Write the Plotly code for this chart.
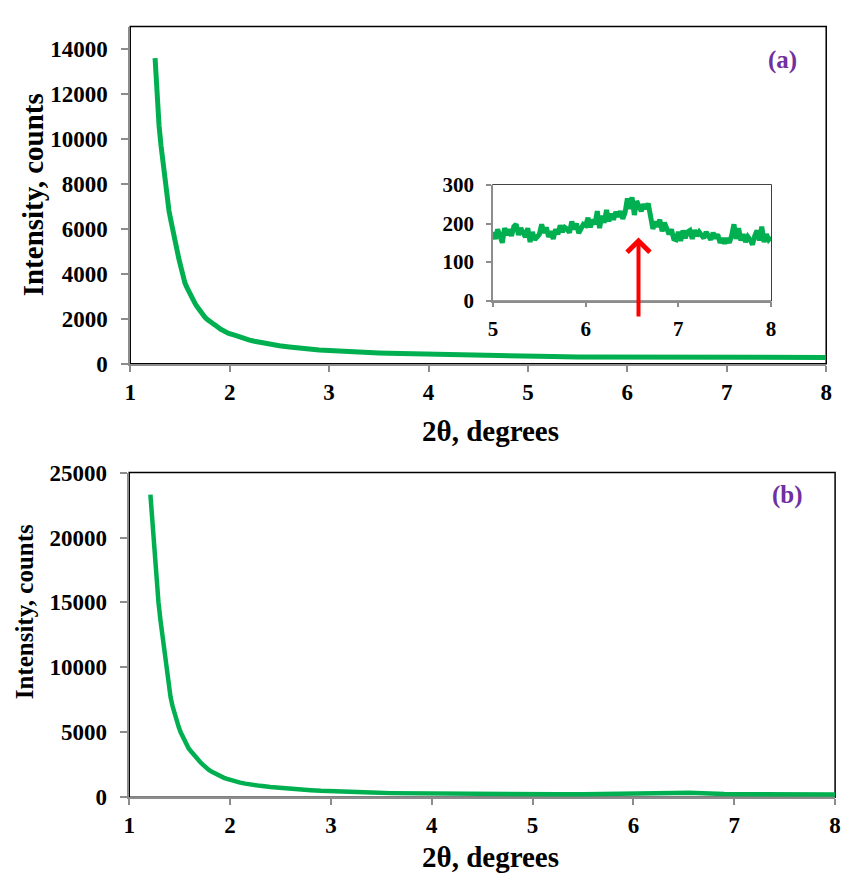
import plotly.graph_objects as go

# ---------------- data ----------------
# panel (a) main pattern
two_theta_a = [1.25, 1.27, 1.29, 1.31, 1.33, 1.35, 1.37, 1.39, 1.41, 1.43, 1.45, 1.47, 1.49, 1.51,
               1.53, 1.55, 1.57, 1.59, 1.61, 1.63, 1.65, 1.67, 1.69, 1.71, 1.73, 1.75, 1.77, 1.79,
               1.81, 1.83, 1.85, 1.87, 1.89, 1.91, 1.93, 1.95, 1.97, 1.99, 2.05, 2.10, 2.15, 2.20,
               2.25, 2.30, 2.35, 2.40, 2.45, 2.50, 2.60, 2.70, 2.80, 2.90, 3.00, 3.10, 3.20, 3.30,
               3.40, 3.50, 3.60, 3.70, 3.80, 3.90, 4.00, 4.20, 4.40, 4.60, 4.80, 5.00, 5.25, 5.50,
               5.75, 6.00, 6.25, 6.50, 6.75, 7.00, 7.25, 7.50, 7.75, 8.00]
counts_a = [13600, 11900, 10600, 9700, 8900, 8200, 7400, 6800, 6350, 5850, 5400, 4950, 4650, 4300,
            3900, 3600, 3400, 3200, 3080, 2900, 2700, 2560, 2420, 2330, 2200, 2080, 1990, 1900,
            1870, 1790, 1730, 1640, 1590, 1530, 1490, 1440, 1400, 1350, 1270, 1180, 1120, 1050,
            1000, 950, 915, 875, 835, 800, 750, 695, 650, 612, 590, 560, 540, 518,
            500, 482, 468, 456, 444, 432, 425, 400, 382, 365, 350, 335, 320, 306,
            300, 290, 285, 290, 280, 275, 270, 270, 265, 280]

# panel (a) inset, 5-8 degrees
two_theta_inset = [5.000, 5.025, 5.050, 5.075, 5.100, 5.125, 5.150, 5.175, 5.200, 5.225, 5.250, 5.275,
                   5.300, 5.325, 5.350, 5.375, 5.400, 5.425, 5.450, 5.475, 5.500, 5.525, 5.550, 5.575,
                   5.600, 5.625, 5.650, 5.675, 5.700, 5.725, 5.750, 5.775, 5.800, 5.825, 5.850, 5.875,
                   5.900, 5.925, 5.950, 5.975, 6.000, 6.025, 6.050, 6.075, 6.100, 6.125, 6.150, 6.175,
                   6.200, 6.225, 6.250, 6.275, 6.300, 6.325, 6.350, 6.375, 6.400, 6.425, 6.450, 6.475,
                   6.500, 6.525, 6.550, 6.575, 6.600, 6.625, 6.650, 6.675, 6.700, 6.725, 6.750, 6.775,
                   6.800, 6.825, 6.850, 6.875, 6.900, 6.925, 6.950, 6.975, 7.000, 7.025, 7.050, 7.075,
                   7.100, 7.125, 7.150, 7.175, 7.200, 7.225, 7.250, 7.275, 7.300, 7.325, 7.350, 7.375,
                   7.400, 7.425, 7.450, 7.475, 7.500, 7.525, 7.550, 7.575, 7.600, 7.625, 7.650, 7.675,
                   7.700, 7.725, 7.750, 7.775, 7.800, 7.825, 7.850, 7.875, 7.900, 7.925, 7.950, 7.975,
                   8.000]
counts_inset = [178, 160, 185, 165, 150, 188, 170, 185, 168, 192, 198, 170,
                188, 176, 165, 188, 152, 178, 158, 165, 172, 198, 176, 190,
                165, 180, 160, 185, 172, 195, 178, 190, 186, 176, 205, 185,
                200, 175, 188, 198, 195, 215, 190, 210, 198, 232, 188, 220,
                202, 235, 206, 225, 210, 230, 218, 232, 212, 228, 265, 238,
                268, 222, 258, 248, 232, 250, 238, 252, 218, 186, 205, 192,
                210, 180, 202, 186, 172, 185, 160, 158, 178, 155, 182, 162,
                178, 182, 160, 183, 168, 178, 168, 162, 178, 168, 158, 176,
                162, 172, 150, 162, 148, 162, 150, 168, 198, 160, 188, 156,
                172, 152, 166, 158, 145, 168, 182, 156, 192, 152, 172, 158,
                165]

# panel (b)
two_theta_b = [1.21, 1.23, 1.25, 1.27, 1.29, 1.31, 1.33, 1.35, 1.37, 1.39, 1.41, 1.43, 1.45, 1.47,
               1.49, 1.51, 1.53, 1.55, 1.57, 1.59, 1.61, 1.63, 1.65, 1.67, 1.69, 1.71, 1.73, 1.75,
               1.77, 1.79, 1.82, 1.85, 1.88, 1.91, 1.94, 1.97, 2.00, 2.05, 2.10, 2.15, 2.20, 2.30,
               2.40, 2.50, 2.60, 2.70, 2.80, 2.90, 3.00, 3.20, 3.40, 3.60, 3.80, 4.00, 4.25, 4.50,
               4.75, 5.00, 5.25, 5.50, 5.75, 6.00, 6.20, 6.40, 6.55, 6.70, 6.90, 7.25, 7.50, 7.75,
               8.00]
counts_b = [23300, 21000, 18800, 16700, 15000, 13600, 12300, 11000, 9800, 8700, 7700, 7000, 6400, 5880,
            5420, 5000, 4650, 4300, 4000, 3750, 3550, 3350, 3150, 2950, 2800, 2650, 2500, 2350,
            2230, 2100, 1950, 1820, 1700, 1590, 1490, 1410, 1330, 1220, 1120, 1040, 960, 870,
            790, 710, 650, 600, 540, 490, 450, 400, 350, 310, 290, 270, 255, 240,
            235, 225, 225, 220, 225, 230, 260, 320, 340, 290, 235, 220, 215, 210,
            210]

ticks_a_x = [1, 2, 3, 4, 5, 6, 7, 8]
ticks_a_y = [0, 2000, 4000, 6000, 8000, 10000, 12000, 14000]
ticks_inset_x = [5, 6, 7, 8]
ticks_inset_y = [0, 100, 200, 300]
ticks_b_y = [0, 5000, 10000, 15000, 20000, 25000]

# ---------------- style ----------------
W, H = 848, 884
GREEN = "#00B050"
GRAY = "#8C8C8C"
PURPLE = "#7030A0"
SERIF = "Liberation Serif"


def px_x(p):
    return p / W


def px_y(p):
    return 1 - p / H


fig = go.Figure()
fig.add_trace(go.Scatter(x=two_theta_a, y=counts_a, mode="lines",
                         line=dict(color=GREEN, width=5), xaxis="x", yaxis="y"))
fig.add_trace(go.Scatter(x=two_theta_inset, y=counts_inset, mode="lines",
                         line=dict(color=GREEN, width=5), xaxis="x2", yaxis="y2"))
fig.add_trace(go.Scatter(x=two_theta_b, y=counts_b, mode="lines",
                         line=dict(color=GREEN, width=4.5), xaxis="x3", yaxis="y3"))

tick_font = dict(family=SERIF, size=23, color="black", weight="bold")
inset_font = dict(family=SERIF, size=21, color="black", weight="bold")


def ax(domain, rng, tickvals, anchor, font, ticklen=6, standoff=2):
    return dict(domain=domain, range=rng, tickmode="array", tickvals=tickvals,
                tickformat="d", ticklabelstandoff=standoff,
                showline=True, linecolor=GRAY, linewidth=1.5, ticks="outside",
                ticklen=ticklen, tickcolor=GRAY, tickwidth=1.5, tickfont=font,
                showgrid=False, zeroline=False, anchor=anchor, fixedrange=True)


fig.update_layout(
    width=W, height=H,
    margin=dict(l=0, r=0, t=0, b=0),
    paper_bgcolor="white", plot_bgcolor="white",
    showlegend=False,
    xaxis=ax([px_x(126), px_x(832)], [1, 8], ticks_a_x, "y", tick_font, 6, 1),
    yaxis=ax([px_y(362), px_y(15)], [0, 15000], ticks_a_y, "x", tick_font, 7, 9),
    xaxis2=ax([px_x(494), px_x(776)], [5, 8], ticks_inset_x, "y2", inset_font, 5, 3),
    yaxis2=ax([px_y(297), px_y(178)], [0, 300], ticks_inset_y, "x2", inset_font, 5, 8),
    xaxis3=ax([px_x(125), px_x(841)], [1, 8], ticks_a_x, "y3", tick_font, 6, 1),
    yaxis3=ax([px_y(808), px_y(474)], [0, 25000], ticks_b_y, "x3", tick_font, 7, 9),
)

# plot-area borders (black top/right)
for xr, yr in (("x", "y"), ("x2", "y2"), ("x3", "y3")):
    fig.add_shape(type="rect", xref=f"{xr} domain", yref=f"{yr} domain",
                  x0=0, x1=1, y0=0, y1=1, line=dict(color="black", width=1.5),
                  layer="below")

title_font = dict(family=SERIF, size=29, color="black", weight="bold")
annos = [
    dict(text="Intensity, counts", x=px_x(27), y=px_y(188), textangle=-90, font=title_font),
    dict(text="2θ, degrees", x=px_x(491), y=px_y(431), font=title_font),
    dict(text="Intensity, counts", x=px_x(19), y=px_y(617), textangle=-90,
         font=dict(family=SERIF, size=25, color="black", weight="bold")),
    dict(text="2θ, degrees", x=px_x(491), y=px_y(870), font=title_font),
    dict(text="(a)", x=px_x(788), y=px_y(49),
         font=dict(family=SERIF, size=25, color=PURPLE, weight="bold")),
    dict(text="(b)", x=px_x(793), y=px_y(497),
         font=dict(family=SERIF, size=25, color=PURPLE, weight="bold")),
]
for a in annos:
    fig.add_annotation(xref="paper", yref="paper", showarrow=False,
                       xanchor="center", yanchor="middle", **a)

# red arrow marking the weak reflection in the inset
fig.add_annotation(xref="x2", yref="y2", axref="x2", ayref="y2",
                   x=6.57, y=164, ax=6.57, ay=-45, text="", showarrow=True,
                   arrowhead=4, arrowsize=1.1, arrowwidth=4, arrowcolor="#FF0000")

fig.write_html("out.html",
               post_script="document.body.style.margin='0';document.body.style.overflow='hidden';")
